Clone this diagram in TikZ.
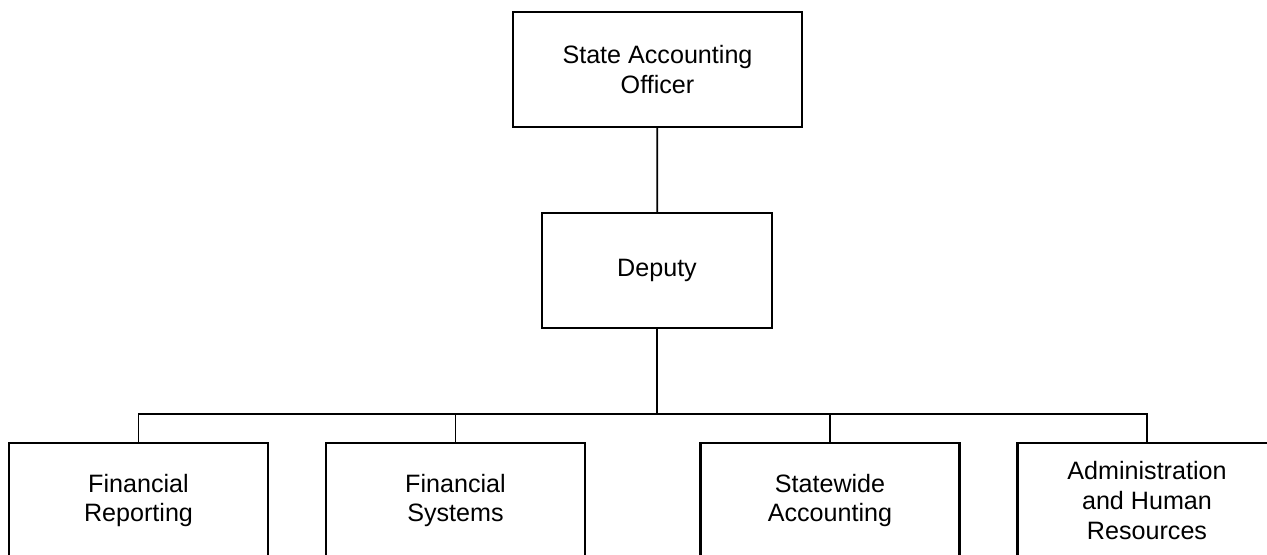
\documentclass[tikz,border=0pt]{standalone}
\usepackage{fontspec}
\setmainfont{Liberation Sans}
\tikzset{
  unit/.style={draw, line width=1.3pt, minimum height=2.3cm, align=center,
    font=\fontsize{14.3}{17}\selectfont},
  link/.style={line width=1pt}
}
\begin{document}
\begin{tikzpicture}
      \useasboundingbox (0,0) rectangle (25.34,-11.08);
      \draw
        (13.15,-1.39) node[unit, minimum width=5.78cm] (sao){State Accounting\\Officer}
        (13.14,-5.41) node[unit, minimum width=4.6cm] (dep){Deputy}
        (2.77,-10.01) node[unit, minimum width=5.18cm] (fr){Financial\\Reporting}
        (9.11,-10.01) node[unit, minimum width=5.18cm] (fs){Financial\\Systems}
        (16.6,-10.01) node[unit, minimum width=5.18cm] (sa){Statewide\\Accounting}
        (22.94,-10.01) node[unit, minimum width=5.18cm] (ahr){Administration\\and Human\\Resources};
      \coordinate (bus) at (13.14,-8.28);
      \begin{scope}[link]
        \draw (sao) to (dep);
        \draw (dep) to (bus);
        \draw (bus) -| (fr);
        \draw (bus) -| (fs);
        \draw (bus) -| (sa);
        \draw (bus) -| (ahr);
      \end{scope}
    \end{tikzpicture}
\end{document}
